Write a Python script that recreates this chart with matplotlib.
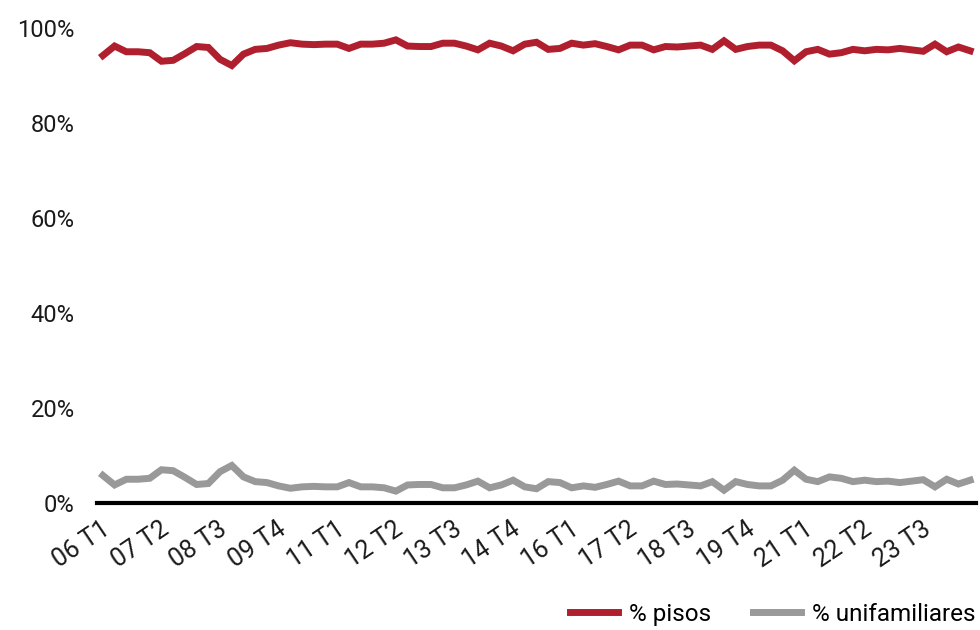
import matplotlib
matplotlib.use("Agg")
import matplotlib.pyplot as plt
import matplotlib.transforms as mtransforms

plt.rcParams['font.family'] = ['Roboto', 'DejaVu Sans']

# Quarters from 2006 Q1 to 2024 Q3
years = list(range(6, 25))
quarters = [f"{y:02d} T{q}" for y in years for q in range(1, 5)][:75]

unifamiliares = [
    5.8, 3.8, 5.0, 5.0, 5.2, 7.0, 6.8, 5.4, 3.9, 4.1,
    6.6, 7.9, 5.5, 4.5, 4.3, 3.6, 3.1, 3.4, 3.5, 3.4,
    3.4, 4.3, 3.4, 3.4, 3.2, 2.5, 3.8, 3.9, 3.9, 3.2,
    3.2, 3.8, 4.6, 3.2, 3.8, 4.8, 3.4, 3.0, 4.5, 4.3,
    3.2, 3.6, 3.3, 3.9, 4.6, 3.6, 3.6, 4.6, 3.9, 4.0,
    3.8, 3.6, 4.5, 2.7, 4.5, 3.9, 3.6, 3.6, 4.8, 6.9,
    5.0, 4.5, 5.5, 5.2, 4.5, 4.8, 4.5, 4.6, 4.3, 4.6,
    4.9, 3.4, 5.0, 4.0, 4.8,
]
pisos = [
    94.2, 96.2, 95.0, 95.0, 94.8, 93.0, 93.2, 94.6, 96.1, 95.9,
    93.4, 92.1, 94.5, 95.5, 95.7, 96.4, 96.9, 96.6, 96.5, 96.6,
    96.6, 95.7, 96.6, 96.6, 96.8, 97.5, 96.2, 96.1, 96.1, 96.8,
    96.8, 96.2, 95.4, 96.8, 96.2, 95.2, 96.6, 97.0, 95.5, 95.7,
    96.8, 96.4, 96.7, 96.1, 95.4, 96.4, 96.4, 95.4, 96.1, 96.0,
    96.2, 96.4, 95.5, 97.3, 95.5, 96.1, 96.4, 96.4, 95.2, 93.1,
    95.0, 95.5, 94.5, 94.8, 95.5, 95.2, 95.5, 95.4, 95.7, 95.4,
    95.1, 96.6, 95.0, 96.0, 95.2,
]

y_ticks = [0, 20, 40, 60, 80, 100]
label_step = 5

RED = "#B01F2E"
GREY = "#999999"
FS = 17

fig = plt.figure(figsize=(9.8, 6.3), dpi=100)
ax = fig.add_axes([97 / 980, 1 - 503 / 630, (976 - 97) / 980, (503 - 28) / 630])

x = list(range(len(quarters)))
ax.plot(x, pisos, color=RED, lw=5, label="% pisos", solid_joinstyle="miter")
ax.plot(x, unifamiliares, color=GREY, lw=5, label="% unifamiliares", solid_joinstyle="miter")

ax.set_xlim(-0.5, len(quarters) - 0.5)
ax.set_ylim(0, 100)
ax.set_yticks(y_ticks)
ax.set_yticklabels([f"{v}%" for v in y_ticks], fontsize=FS, color="#1a1a1a")
ax.tick_params(axis="y", length=0, pad=16)

ticks = x[::label_step]
ax.set_xticks(ticks)
labels = ax.set_xticklabels([quarters[i] for i in ticks], fontsize=18, color="#1a1a1a",
                            rotation=34, ha="right", rotation_mode="anchor")
ax.tick_params(axis="x", length=0, pad=10)
shift = mtransforms.ScaledTranslation(-2 / 100, 0, fig.dpi_scale_trans)
for lab in labels:
    lab.set_transform(lab.get_transform() + shift)

for side in ("top", "right", "left"):
    ax.spines[side].set_visible(False)
ax.spines["bottom"].set_linewidth(3)
ax.spines["bottom"].set_color("black")

fig.legend(loc="lower right", bbox_to_anchor=(1.018, -0.028), ncol=2, frameon=False,
           fontsize=17.5, handlelength=2.0, handletextpad=0.45, columnspacing=1.7)

fig.savefig("out.png", dpi=100, facecolor="white")
